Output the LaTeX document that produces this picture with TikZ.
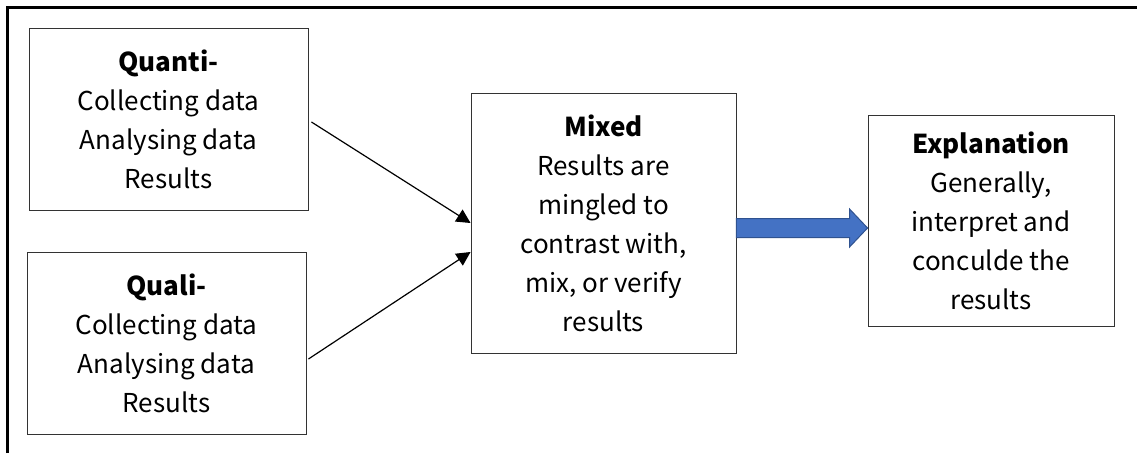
\documentclass[tikz,border=0pt]{standalone}
\usepackage{fontspec}
\setmainfont{Noto Sans CJK SC}
\usetikzlibrary{arrows.meta,calc}
\definecolor{arrowBlue}{HTML}{4472C4}
\definecolor{arrowEdge}{HTML}{2F528F}

\tikzset{
  stagebox/.style={draw=black!80,line width=0.9pt,align=center,inner sep=0pt,
                   font=\fontsize{26}{39}\selectfont},
  flow/.style={-{Triangle[length=14pt,width=14pt]},line width=1.2pt},
}

\begin{document}
\begin{tikzpicture}[x=1pt,y=-1pt]
  \useasboundingbox (0,0) rectangle (1137,453);
  % frame (top and left edges only)
  \draw[line width=3pt] (7,453) -- (7,7) -- (1137,7);

  % the four stages
  \node[stagebox,minimum width=279pt,minimum height=182pt] (quanti) at (168.5,119)
    {\textbf{Quanti-}\\Collecting data\\Analysing data\\Results};
  \node[stagebox,minimum width=279pt,minimum height=182pt] (quali) at (166.5,343)
    {\textbf{Quali-}\\Collecting data\\Analysing data\\Results};
  \node[stagebox,minimum width=265pt,minimum height=260pt] (mixed) at (603.5,223)
    {\textbf{Mixed}\\Results are\\mingled to\\contrast with,\\mix, or verify\\results};
  \node[stagebox,minimum width=246pt,minimum height=211pt] (expl) at (991,220.5)
    {\textbf{Explanation}\\Generally,\\interpret and\\conculde the\\results};

  % connectors
  \draw[flow] ($(quanti.east)+(3,3)$) -- (mixed.west);
  \draw[flow] ($(quali.east)+(2,16)$) -- ($(mixed.west)+(0,29)$);

  % block arrow to the explanation
  \coordinate (bstart) at ($(mixed.east)+(0,5)$);
  \coordinate (btip) at ($(expl.west)+(0,7.5)$);
  \draw[arrowEdge,fill=arrowBlue,line width=1pt]
    ($(bstart)+(0,-9.5)$) -- ($(btip)+(-18,-9.5)$) -- ($(btip)+(-18,-19)$) -- (btip)
    -- ($(btip)+(-18,19)$) -- ($(btip)+(-18,9.5)$) -- ($(bstart)+(0,9.5)$) -- cycle;
\end{tikzpicture}
\end{document}
